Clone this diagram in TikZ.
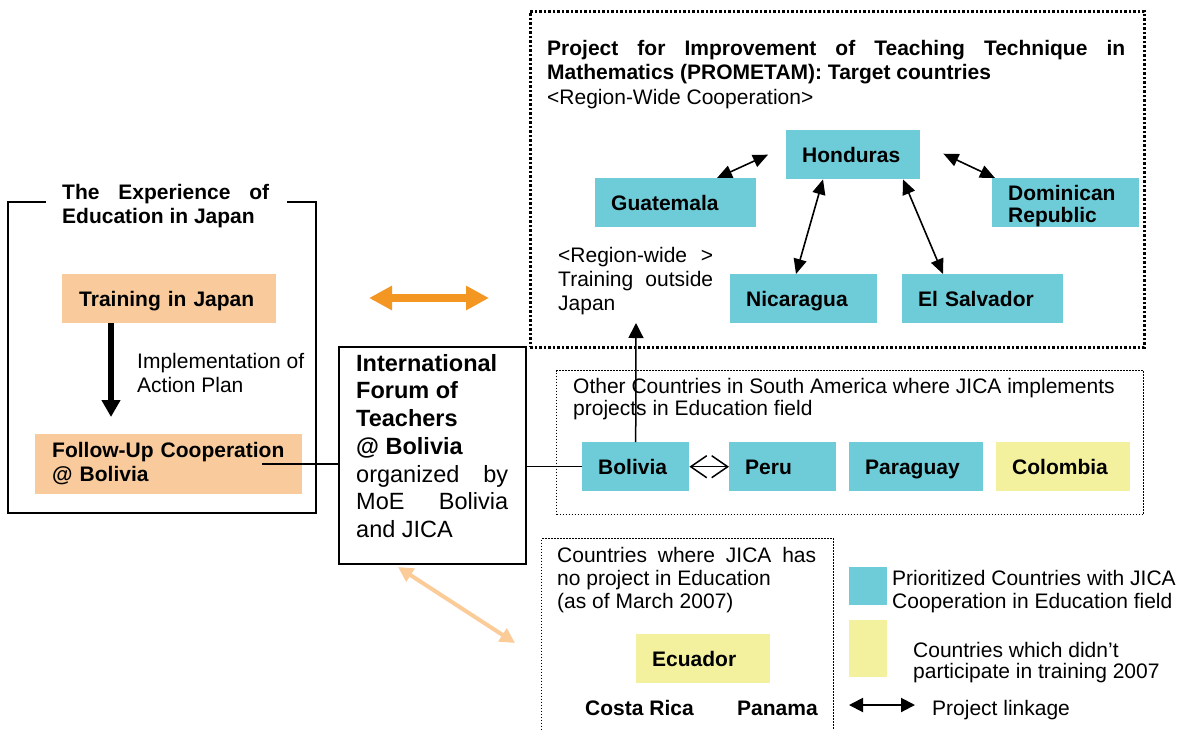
\documentclass[tikz,border=0pt]{standalone}
\usepackage{fontspec}
\setmainfont{Liberation Sans}
\usetikzlibrary{arrows.meta,calc}
\definecolor{cyanc}{RGB}{110,204,216}
\definecolor{yellowc}{RGB}{243,241,157}
\definecolor{peachc}{RGB}{249,203,156}
\definecolor{orangec}{RGB}{243,150,34}
\definecolor{lpeach}{RGB}{251,203,152}
\begin{document}
\begin{tikzpicture}[x=1pt,y=-1pt,
  cbox/.style={fill=cyanc, minimum height=49, inner xsep=16, inner ysep=0, anchor=north west,
    align=left, text height=15, text depth=0, font=\fontsize{21}{24}\selectfont\bfseries},
  ybox/.style={cbox, fill=yellowc},
  pbox/.style={cbox, fill=peachc, inner xsep=17},
  txt/.style={inner sep=0, anchor=north west, font=\fontsize{21}{24}\selectfont},
  btxt/.style={txt, font=\fontsize{21}{24}\selectfont\bfseries},
  link/.style={line width=1.6, {Triangle[length=15pt,width=13pt]}-{Triangle[length=15pt,width=13pt]}},
  finedots/.style={line width=1.3, dash pattern=on 1.3pt off 1.7pt},
  thickdots/.style={line width=2.5, dash pattern=on 2.5pt off 2pt},
  conn/.style={line width=1.5}]
\useasboundingbox (0,0) rectangle (1190,729);

% ---------- left frame ----------
\draw[line width=2] (46,202) -- (8,202) -- (8,513) -- (316,513) -- (316,202) -- (287,202);
\node[btxt, text width=207, align=justify] (expt) at (62,184) {The Experience of\linebreak Education in Japan};
\node[pbox, text width=180] (tij) at (62,274) {Training in Japan};
\node[pbox, text width=233, minimum height=60, text height=15, text depth=28] (fu) at (35,434) {\mbox{Follow-Up Cooperation}\\@ Bolivia};
\node[txt, align=left] (impl) at (137,353) {Implementation of\\Action Plan};
\draw[line width=6, -{Triangle[length=17pt,width=18pt]}] ($(tij.south west)+(49,0)$) -- ($(fu.north west)+(76,-17)$);

% ---------- forum ----------
\node[draw, line width=2, minimum width=187, minimum height=217, anchor=north west, inner sep=0] (forum) at (338,346) {};
\node[txt, font=\fontsize{23.5}{27.7}\selectfont, text width=152, align=justify] (forumt) at (356,354)
  {{\bfseries International\\Forum of\\Teachers\\@ Bolivia}\\organized by\linebreak MoE Bolivia\linebreak and JICA};

% ---------- top dotted box ----------
\node[draw, thickdots, minimum width=614, minimum height=336, anchor=north west, inner sep=0] (tbox) at (529,10) {};
\node[txt, text width=578, align=justify, font=\fontsize{21}{24.5}\selectfont] (ptitle) at (547,40)
  {{\bfseries Project for Improvement of Teaching Technique in\linebreak Mathematics (PROMETAM): Target countries}\\<Region-Wide Cooperation>};
\node[cbox, text width=102] (hon) at (786,130) {Honduras};
\node[cbox, text width=129] (gua) at (595,178) {Guatemala};
\node[cbox, text width=115] (dom) at (992,178) {};
\begin{scope}
  \clip (dom.south west) rectangle (dom.north east);
  \node[btxt, font=\fontsize{21}{22}\selectfont\bfseries, align=left] (domt) at ($(dom.north west)+(16,7)$) {Dominican\\Republic};
\end{scope}
\node[cbox, text width=115] (nic) at (730,274) {Nicaragua};
\node[cbox, text width=129] (els) at (902,274) {El Salvador};
\node[txt, text width=155, align=justify] (rwt) at (558,247) {<Region-wide >\linebreak Training outside\linebreak Japan};

\draw[link] ($(gua.north west)+(122,0)$) -- ($(hon.west)+(-18,0)$);
\draw[link] ($(hon.east)+(23,-1)$) -- ($(dom.north west)+(3,0)$);
\draw[link] ($(hon.south west)+(37,0)$) -- ($(nic.north west)+(66,0)$);
\draw[link] ($(hon.south west)+(117,0)$) -- ($(els.north west)+(41,0)$);

% ---------- orange arrows ----------
\coordinate (oa1) at (369,298);
\coordinate (oa2) at (489,298);
\draw[orangec, line width=8, {Triangle[length=23pt,width=23pt]}-{Triangle[length=23pt,width=23pt]}] (oa1) -- (oa2);
\coordinate (la2) at (515,643);
\draw[lpeach, line width=4, {Triangle[length=15pt,width=15pt]}-{Triangle[length=15pt,width=15pt]}] ($(forum.south west)+(60,2)$) -- (la2);

% ---------- other South America ----------
\node[draw, finedots, minimum width=587, minimum height=144, anchor=north west, inner sep=0] (obox) at (556,370) {};
\node[txt, align=left, font=\fontsize{21}{22.5}\selectfont] (ot) at (573,378) {Other Countries in South America where JICA implements\\projects in Education field};
\node[cbox, text width=75] (bol) at (582,442) {Bolivia};
\node[cbox, text width=75] (per) at (729,442) {Peru};
\node[cbox, text width=102] (par) at (849,442) {Paraguay};
\node[ybox, text width=102] (col) at (996,442) {Colombia};
\draw[conn, {Straight Barb[length=16pt,width=22pt]}-{Straight Barb[length=16pt,width=22pt]}] (bol.east) -- (per.west);
\coordinate (rwtip) at (636,323);
\draw[conn, -{Triangle[length=15pt,width=15pt]}] (bol.north) -- (rwtip);
\draw[conn] ($(fu.east)+(-40,0)$) -- (fu.east -| forum.west);
\draw[conn] (bol.west -| forum.east) -- (bol.west);

% ---------- no-project box ----------
\node[draw, finedots, minimum width=292, minimum height=240, anchor=north west, inner sep=0] (nbox) at (541,538) {};
\node[txt, text width=259, align=justify, font=\fontsize{21}{23}\selectfont] (nt) at (557,547) {Countries where JICA has\linebreak no project in Education\\(as of March 2007)};
\node[ybox, text width=102] (ecu) at (636,634) {Ecuador};
\node[btxt, anchor=base west] (cri) at (585,715) {Costa Rica};
\node[btxt, anchor=base west] (pan) at (737,715) {Panama};

% ---------- legend ----------
\node[fill=cyanc, minimum width=38, minimum height=38, anchor=north west, inner sep=0] (lc) at (849,567) {};
\node[fill=yellowc, minimum width=38, minimum height=57, anchor=north west, inner sep=0] (ly) at (849,620) {};
\node[txt, align=left, font=\fontsize{21}{23}\selectfont] (lct) at (892,570) {Prioritized Countries with JICA\\Cooperation in Education field};
\node[txt, align=left, font=\fontsize{21}{21.5}\selectfont] (lyt) at (913,642) {Countries which didn’t\\participate in training 2007};
\coordinate (pl1) at (849,705);
\coordinate (pl2) at (915,705);
\draw[line width=2, {Triangle[length=14pt,width=14pt]}-{Triangle[length=14pt,width=14pt]}] (pl1) -- (pl2);
\node[txt, anchor=base west] (plt) at (932,715) {Project linkage};
\end{tikzpicture}
\end{document}
